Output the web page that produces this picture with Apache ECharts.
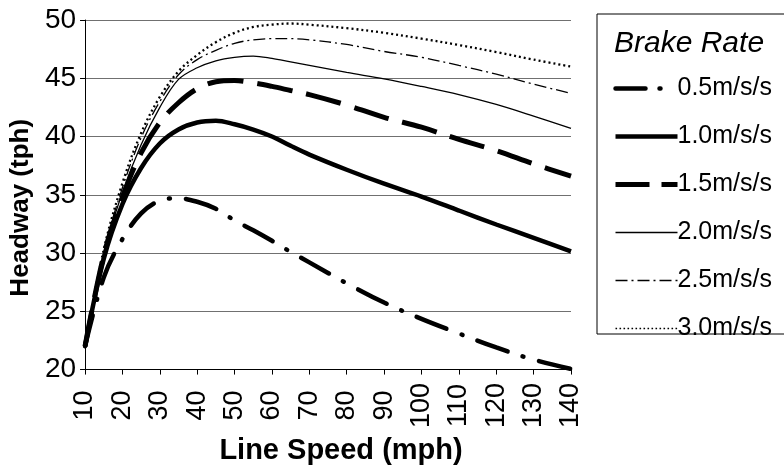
<!DOCTYPE html>
<html>
<head>
<meta charset="utf-8">
<script src="https://cdn.jsdelivr.net/npm/echarts@6/dist/echarts.min.js"></script>
<style>
html,body{margin:0;padding:0;background:#fff;}
#chart{width:784px;height:470px;}
</style>
</head>
<body>
<div id="chart"></div>
<script>
const speeds = [10,15,20,25,30,35,40,45,50,55,60,65,70,80,90,100,110,120,130,140];
const brake05 = [22,27.9,31.2,33.4,34.5,34.7,34.4,33.8,32.8,31.95,31.05,30.1,29.2,27.4,25.75,24.35,23.1,21.9,20.85,20.05];
const brake10 = [22,29.5,34.2,37.3,39.4,40.6,41.2,41.35,41.05,40.6,40.0,39.2,38.45,37.15,35.95,34.85,33.65,32.45,31.3,30.15];
const brake15 = [22,29.8,34.8,38.6,41.2,42.9,44.1,44.7,44.8,44.6,44.3,43.95,43.6,42.7,41.65,40.8,39.75,38.8,37.65,36.6];
const brake20 = [22,30,35.2,39.3,42.5,44.9,45.9,46.5,46.8,46.9,46.7,46.4,46.1,45.5,44.95,44.3,43.6,42.75,41.75,40.7];
const brake25 = [22,30.1,35.6,39.9,43.0,45.3,46.6,47.4,48.0,48.3,48.4,48.4,48.3,47.9,47.3,46.8,46.1,45.35,44.5,43.7];
const brake30 = [22,30.3,36.0,40.3,43.4,45.6,47.0,48.1,48.9,49.4,49.6,49.7,49.6,49.3,48.9,48.4,47.85,47.25,46.6,46.0];
const seriesNames = ['0.5m/s/s','1.0m/s/s','1.5m/s/s','2.0m/s/s','2.5m/s/s','3.0m/s/s'];
const yTicks = [20,25,30,35,40,45,50];
const legendTitle = 'Brake Rate';

const allValues = [brake05, brake10, brake15, brake20, brake25, brake30];
const styles = [
  {width:4.5, type:[32,16,1,16], cap:'round'},
  {width:4.5, type:'solid'},
  {width:5, type:[36,14], cap:'butt'},
  {width:1.3, type:'solid'},
  {width:1.3, type:[12,4,2,4]},
  {width:2.3, type:[2,3]}
];
const legendStyles = [
  {width:4.5, type:[30,14,1,20], cap:'round', color:'#000'},
  {width:4.5, type:'solid', color:'#000'},
  {width:5, type:[34,12], cap:'butt', color:'#000'},
  {width:1.3, type:'solid', color:'#000'},
  {width:1.3, type:[12,4,2,4], color:'#000'},
  {width:1.6, type:[1.6,2.4], color:'#000'}
];

const series = seriesNames.map((n,i)=>({
  name:n,
  type:'line',
  smooth:0.35,
  symbol:'none',
  data: speeds.map((s,j)=>[s, allValues[i][j]]),
  lineStyle: Object.assign({color:'#000'}, styles[i]),
  itemStyle:{color:'#000'},
  emphasis:{disabled:true}
}));

const chart = echarts.init(document.getElementById('chart'), null, {renderer:'canvas'});
chart.setOption({
  animation:false,
  backgroundColor:'#fff',
  grid:{left:84, right:213, top:20, bottom:97, containLabel:false},
  xAxis:{
    type:'value', min:10, max:140, interval:10,
    name:'Line Speed (mph)', nameLocation:'middle', nameGap:60,
    nameTextStyle:{fontFamily:'Liberation Sans', fontWeight:'bold', fontSize:29, color:'#000', padding:[0,0,0,26]},
    axisLine:{show:true, lineStyle:{color:'#000', width:1}},
    axisTick:{show:true, length:5, lineStyle:{color:'#000'}},
    axisLabel:{rotate:90, align:'center', verticalAlign:'middle', margin:36, fontFamily:'Liberation Sans', fontSize:27, color:'#000'},
    splitLine:{show:false}
  },
  yAxis:{
    type:'value', min:yTicks[0], max:yTicks[yTicks.length-1], interval:5,
    name:'Headway (tph)', nameLocation:'middle', nameGap:40, nameRotate:90,
    nameTextStyle:{fontFamily:'Liberation Sans', fontWeight:'bold', fontSize:26, color:'#000', padding:[0,26,0,0]},
    axisLine:{show:true, lineStyle:{color:'#000', width:1}},
    axisTick:{show:true, length:5, lineStyle:{color:'#000'}},
    axisLabel:{margin:9, fontFamily:'Liberation Sans', fontSize:28, color:'#000'},
    splitLine:{show:true, lineStyle:{color:'#707070', width:1}}
  },
  legend:{
    orient:'vertical', left:608, top:71,
    itemWidth:62, itemHeight:20, itemGap:23,
    itemStyle:{opacity:0},
    textStyle:{fontFamily:'Liberation Sans', fontSize:25, color:'#000', lineHeight:20, padding:[0,0,0,-5]},
    selectedMode:false,
    data:seriesNames.map((n,i)=>({name:n, lineStyle:legendStyles[i]}))
  },
  graphic:[
    {type:'rect', shape:{x:597, y:14, width:200, height:320}, style:{fill:'none', stroke:'#000', lineWidth:1}, silent:true},
    {type:'text', x:614, y:29, style:{text:legendTitle, font:'italic 30px "Liberation Sans"', fill:'#000'}, silent:true}
  ],
  series: series
});
</script>
</body>
</html>
